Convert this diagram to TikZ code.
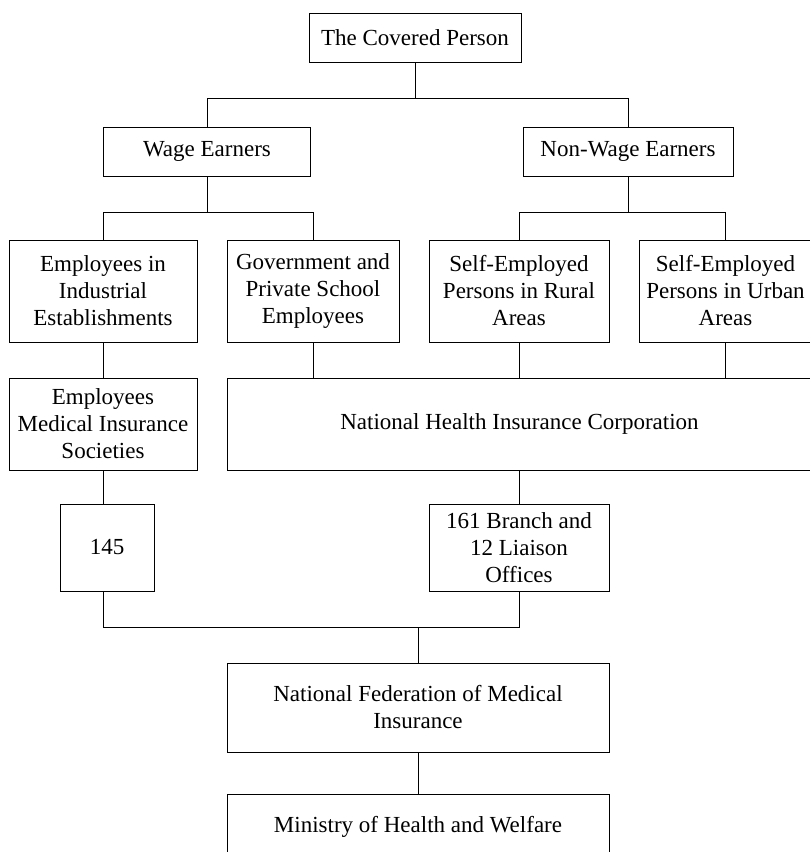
\documentclass[tikz,border=0pt]{standalone}
\usepackage{fontspec}
\setmainfont{Liberation Serif}
\begin{document}
\begin{tikzpicture}[x=1pt,y=-1pt,
  box/.style={draw, line width=0.8pt, rectangle, inner sep=0pt, align=center,
    font=\fontsize{23}{27}\selectfont},
  link/.style={line width=0.8pt}]
\useasboundingbox (0,0) rectangle (810,852);
\clip (0,0) rectangle (810,852);
% nodes
\node[box, minimum width=212, minimum height=49] (top) at (415,37.5) {The Covered Person};
\node[box, minimum width=207, minimum height=49] (wage) at (207,151.5) {Wage Earners};
\node[box, minimum width=210, minimum height=49] (nonwage) at (628,151.5) {Non-Wage Earners};
\node[box, minimum width=188, minimum height=102] (ind) at (103,291) {Employees in\\Industrial\\Establishments};
\node[box, minimum width=172, minimum height=102] (gov) at (313,291) {Government and\\Private School\\Employees};
\node[box, minimum width=180, minimum height=102] (rural) at (519,291) {Self-Employed\\Persons in Rural\\Areas};
\node[box, minimum width=173, minimum height=102] (urban) at (725.5,291) {Self-Employed\\Persons in Urban\\Areas};
\node[box, minimum width=188, minimum height=92] (emis) at (103,424) {Employees\\Medical Insurance\\Societies};
\node[box, minimum width=585, minimum height=92] (nhic) at (519.5,424) {National Health Insurance Corporation};
\node[box, minimum width=94, minimum height=87] (n145) at (107,547.5) {145};
\node[box, minimum width=180, minimum height=87] (branch) at (519,547.5) {161 Branch and\\12 Liaison\\Offices};
\node[box, minimum width=382, minimum height=89] (nfmi) at (418,707.5) {National Federation of Medical\\Insurance};
\node[box, minimum width=382, minimum height=66] (mhw) at (418,827) {Ministry of Health and Welfare};
% junction levels
\coordinate (l1) at (0,98);
\coordinate (l2) at (0,212);
\coordinate (l3) at (0,627);
% connectors
\draw[link] (top.south) -- (top.south |- l1);
\draw[link] (wage.north) -- (wage.north |- l1) -- (nonwage.north |- l1) -- (nonwage.north);
\draw[link] (wage.south) -- (wage.south |- l2);
\draw[link] (ind.north) -- (ind.north |- l2) -- (gov.north |- l2) -- (gov.north);
\draw[link] (nonwage.south) -- (nonwage.south |- l2);
\draw[link] (rural.north) -- (rural.north |- l2) -- (urban.north |- l2) -- (urban.north);
\draw[link] (ind.south) -- (emis.north);
\draw[link] (gov.south) -- (gov.south |- nhic.north);
\draw[link] (rural.south) -- (rural.south |- nhic.north);
\draw[link] (urban.south) -- (urban.south |- nhic.north);
\draw[link] (emis.south) -- (emis.south |- n145.north);
\draw[link] (nhic.south -| branch.north) -- (branch.north);
\draw[link] (emis.south |- n145.south) -- (emis.south |- l3) -- (branch.south |- l3) -- (branch.south);
\draw[link] (nfmi.north |- l3) -- (nfmi.north);
\draw[link] (nfmi.south) -- (mhw.north);
\end{tikzpicture}
\end{document}
